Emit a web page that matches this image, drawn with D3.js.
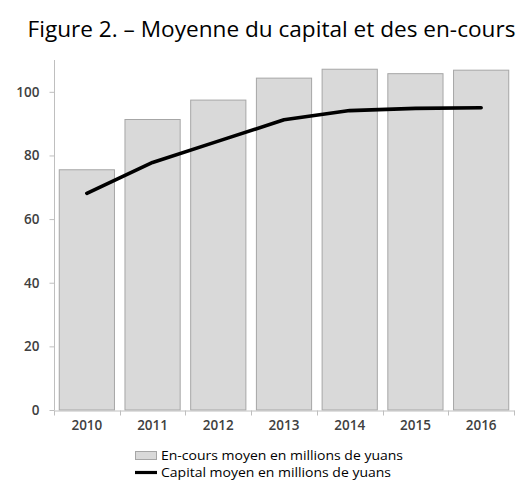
<!DOCTYPE html>
<html><head><meta charset="utf-8">
<script src="https://cdn.jsdelivr.net/npm/d3@7"></script>
<style>body{margin:0;background:#fff}</style>
</head><body>
<script>
const years = ["2010","2011","2012","2013","2014","2015","2016"];
const encours = [75.5, 91.3, 97.4, 104.3, 107.1, 105.7, 106.8];
const capital = [68.1, 77.8, 84.5, 91.2, 94.1, 94.8, 95.0];
const yTicks = [0, 20, 40, 60, 80, 100];
const title = "Figure 2. – Moyenne du capital et des en-cours";
const legendLabels = ["En-cours moyen en millions de yuans", "Capital moyen en millions de yuans"];

const W = 523, H = 489;
const svg = d3.select("body").append("svg").attr("width", W).attr("height", H);
const font = "'Open Sans', 'Liberation Sans', sans-serif";

function fit(sel, target) {
  const n = sel.node();
  const w = n.getComputedTextLength();
  const fs = parseFloat(sel.attr("font-size"));
  sel.attr("font-size", (fs * target / w).toFixed(2));
}

const x = d3.scaleBand().domain(years).range([54, 514]).paddingInner(0.16).paddingOuter(0.08);
const y = d3.scaleLinear().domain([0, 110]).range([410, 60]);

// title
const t = svg.append("text").attr("x", 271.5).attr("y", 37).attr("text-anchor", "middle")
  .attr("font-family", font).attr("font-size", 20).attr("fill", "#000").text(title);
fit(t, 488);

// bars
svg.append("g").selectAll("rect").data(years).join("rect")
  .attr("x", d => x(d)).attr("width", x.bandwidth())
  .attr("y", (d, i) => y(encours[i])).attr("height", (d, i) => y(0) - y(encours[i]))
  .attr("fill", "#d9d9d9").attr("stroke", "#a6a6a6").attr("stroke-width", 1);

// y axis
const ya = svg.append("g").attr("transform", "translate(54.5,0)")
  .call(d3.axisLeft(y).tickValues(yTicks).tickSize(5).tickPadding(10).tickSizeOuter(0));
ya.select(".domain").attr("stroke", "#bfbfbf").attr("d", `M0,${y(110)}V${y(0)}`);
ya.selectAll(".tick line").attr("stroke", "#bfbfbf");
ya.selectAll(".tick text").attr("font-family", font).attr("font-size", 13.5).attr("font-weight", 600).attr("fill", "#404040");

// x axis
const xa = svg.append("g").attr("transform", `translate(0,${y(0) + 0.5})`)
  .call(d3.axisBottom(x).tickSize(0).tickPadding(10));
xa.select(".domain").attr("stroke", "#bfbfbf");
xa.selectAll(".tick text").attr("font-family", font).attr("font-size", 13.5).attr("font-weight", 600).attr("fill", "#404040");
const bounds = d3.range(years.length + 1).map(i => 54 + i * (460 / years.length));
xa.selectAll(".bt").data(bounds).join("line").attr("class", "bt")
  .attr("x1", d => Math.round(d) + 0.5).attr("x2", d => Math.round(d) + 0.5)
  .attr("y1", 0).attr("y2", 5).attr("stroke", "#bfbfbf");

// line
const line = d3.line().x((d, i) => x(years[i]) + x.bandwidth() / 2).y(d => y(d));
svg.append("path").datum(capital).attr("d", line).attr("fill", "none")
  .attr("stroke", "#000").attr("stroke-width", 3.6).attr("stroke-linecap", "round").attr("stroke-linejoin", "round");

// legend
svg.append("rect").attr("x", 135.5).attr("y", 451.5).attr("width", 21).attr("height", 8)
  .attr("fill", "#d9d9d9").attr("stroke", "#a6a6a6");
svg.append("text").attr("x", 161).attr("y", 459.5).attr("font-family", font)
  .attr("font-size", 12).attr("fill", "#000").attr("textLength", 242).attr("lengthAdjust", "spacingAndGlyphs")
  .text(legendLabels[0]);
svg.append("line").attr("x1", 135).attr("x2", 157).attr("y1", 472.5).attr("y2", 472.5)
  .attr("stroke", "#000").attr("stroke-width", 3.2);
svg.append("text").attr("x", 161).attr("y", 476.5).attr("font-family", font)
  .attr("font-size", 12).attr("fill", "#000").attr("textLength", 230).attr("lengthAdjust", "spacingAndGlyphs")
  .text(legendLabels[1]);
</script>
</body></html>
